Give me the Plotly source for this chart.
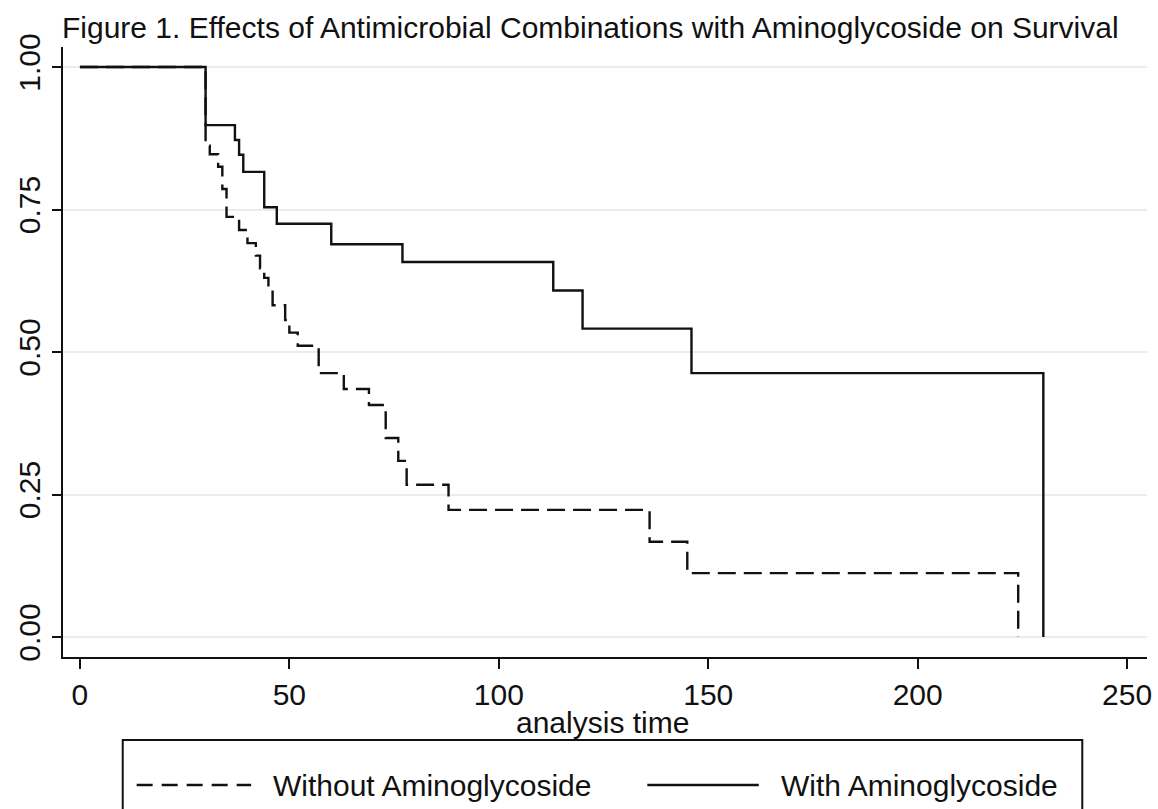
import plotly.graph_objects as go

# ---- data (Kaplan-Meier step estimates) ----
time_without = [0, 30, 31, 33, 34, 35, 38, 40, 42, 43, 44, 45, 46, 49, 50, 52, 57, 63, 69, 73, 76, 78, 88, 136, 145, 224]
surv_without = [1.0, 0.862, 0.847, 0.825, 0.786, 0.737, 0.714, 0.691, 0.669, 0.647, 0.630, 0.606, 0.582,
                0.556, 0.534, 0.511, 0.463, 0.435, 0.407, 0.349, 0.309, 0.267, 0.223, 0.167, 0.112, 0.0]

time_with = [0, 30, 37, 38, 39, 44, 47, 60, 77, 113, 120, 146, 230]
surv_with = [1.0, 0.898, 0.872, 0.846, 0.816, 0.754, 0.725, 0.689, 0.658, 0.608, 0.541, 0.463, 0.0]

x_ticks = [0, 50, 100, 150, 200, 250]
y_ticks = [0.0, 0.25, 0.5, 0.75, 1.0]
y_tick_labels = ["0.00", "0.25", "0.50", "0.75", "1.00"]

series_names = ["Without Aminoglycoside", "With Aminoglycoside"]
title_text = "Figure 1. Effects of Antimicrobial Combinations with Aminoglycoside on Survival"
x_title = "analysis time"

FONT = "Liberation Sans, Arial, sans-serif"
INK = "#111111"
DASH = "18px,8px"

fig = go.Figure()
fig.add_trace(go.Scatter(x=time_without, y=surv_without, mode="lines", line_shape="hv",
                         line=dict(color=INK, width=2.4, dash=DASH),
                         name=series_names[0], showlegend=False))
fig.add_trace(go.Scatter(x=time_with, y=surv_with, mode="lines", line_shape="hv",
                         line=dict(color=INK, width=2.4),
                         name=series_names[1], showlegend=False))

W, H = 1158, 809
L, R, T, B = 63, 6, 47, 152
pw, ph = W - L - R, H - T - B


def px(xp):
    return (xp - L) / pw


def py(yp):
    return (H - B - yp) / ph


# x-axis title
fig.add_annotation(xref="paper", yref="paper", x=px(605), y=py(722), xanchor="center", yanchor="middle",
                   text=x_title, showarrow=False, font=dict(family=FONT, size=30, color=INK))

# manual legend box (as in the Stata figure)
fig.add_shape(type="rect", xref="paper", yref="paper",
              x0=px(123), x1=px(1087), y0=py(740), y1=py(840),
              line=dict(color=INK, width=2), fillcolor="white")
fig.add_shape(type="line", xref="paper", yref="paper",
              x0=px(137), x1=px(252), y0=py(785), y1=py(785),
              line=dict(color=INK, width=2.4, dash="16px,9px"))
fig.add_shape(type="line", xref="paper", yref="paper",
              x0=px(650), x1=px(762), y0=py(785), y1=py(785),
              line=dict(color=INK, width=2.4))
fig.add_annotation(xref="paper", yref="paper", x=px(272), y=py(785), xanchor="left", yanchor="middle",
                   text=series_names[0], showarrow=False, font=dict(family=FONT, size=30, color=INK))
fig.add_annotation(xref="paper", yref="paper", x=px(782), y=py(785), xanchor="left", yanchor="middle",
                   text=series_names[1], showarrow=False, font=dict(family=FONT, size=30, color=INK))

fig.update_layout(
    width=W, height=H,
    margin=dict(l=L, r=R, t=T, b=B),
    paper_bgcolor="white", plot_bgcolor="white",
    font=dict(family=FONT, size=30, color=INK),
    title=dict(text=title_text, x=62 / W, xanchor="left", xref="container",
               y=1 - 27 / H, yanchor="middle", yref="container",
               font=dict(family=FONT, size=30, color=INK)),
    showlegend=False,
)
fig.update_xaxes(range=[-4.04, 254.75], tickvals=x_ticks, ticks="outside", ticklen=10, tickwidth=2,
                 tickcolor=INK, showline=True, linecolor=INK, linewidth=2, showgrid=False, zeroline=False,
                 tickfont=dict(family=FONT, size=30, color=INK))
fig.update_yaxes(range=[-0.0351, 1.0351], tickvals=y_ticks, ticktext=y_tick_labels, tickangle=-90,
                 ticks="outside", ticklen=9, tickwidth=2, tickcolor=INK,
                 showline=True, linecolor=INK, linewidth=2,
                 showgrid=True, gridcolor="#e6eef0", gridwidth=1.5, zeroline=False,
                 tickfont=dict(family=FONT, size=30, color=INK))

fig.write_html("out.html", config={"displayModeBar": False},
               post_script="document.body.style.margin='0';document.body.style.padding='0';")
